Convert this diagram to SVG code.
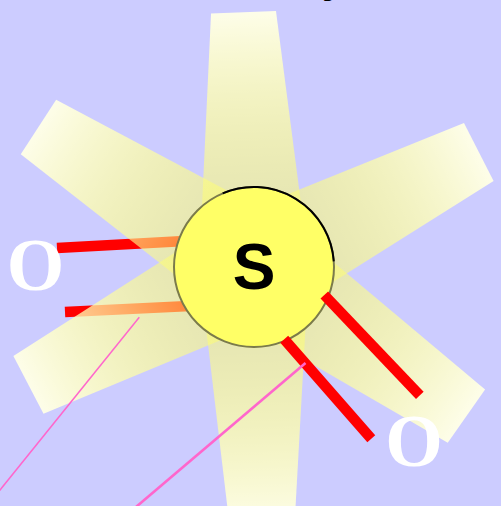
<svg xmlns="http://www.w3.org/2000/svg" width="501" height="506" viewBox="0 0 501 506">
  <defs>
    <linearGradient id="rayGrad" x1="0" y1="0" x2="1" y2="0">
      <stop offset="0" stop-color="#ffff40" stop-opacity="0.35"/>
      <stop offset="1" stop-color="#ffffe8" stop-opacity="0.97"/>
    </linearGradient>
    <style>
      .ray { fill: url(#rayGrad); }
      .bond { stroke: #ff0000; stroke-width: 10.5; stroke-linecap: butt; fill: none; }
      .pink { stroke: #ff66cc; fill: none; }
      .olabel { font-family: "Liberation Serif", "Times New Roman", serif; font-weight: bold; font-size: 74px; fill: #ffffff; text-anchor: middle; }
      .slabel { font-family: "Liberation Sans", Arial, sans-serif; font-weight: bold; font-size: 64px; fill: #000000; text-anchor: middle; }
    </style>
  </defs>
  <rect x="0" y="0" width="501" height="506" fill="#ccccff"/>
  <text x="322" y="-7" font-family="Liberation Sans, Arial, sans-serif" font-weight="bold" font-size="40" fill="#000">y</text>

  <g id="connectors-under">
    <line class="bond" x1="57" y1="248" x2="185" y2="241"/>
    <line class="bond" x1="65" y1="312" x2="190" y2="306"/>
  </g>

  <g id="rays">
    <polygon class="ray" points="0,-55 255,-32.5 255,32.5 0,55" transform="translate(254,267) rotate(-92.36)"/>
    <polygon class="ray" points="0,-55 257,-32.5 257,32.5 0,55" transform="translate(254,267) rotate(-147)"/>
    <polygon class="ray" points="0,-55 252.5,-32.5 252.5,32.5 0,55" transform="translate(254,267) rotate(-27.1)"/>
    <polygon class="ray" points="0,-55 259.5,-32.5 259.5,32.5 0,55" transform="translate(254,267) rotate(35.06)"/>
    <polygon class="ray" points="0,-55 254.5,-32.5 254.5,32.5 0,55" transform="translate(254,267) rotate(152.4)"/>
    <polygon class="ray" points="0,-55 258,-32.5 258,32.5 0,55" transform="translate(254,267) rotate(88.2)"/>
  </g>

  <g id="node-S">
    <circle cx="254" cy="267" r="80" fill="#ffff66" stroke="#7b7b4b" stroke-width="2"/>
    <path d="M222.7,193.4 A80,80 0 0 1 333.8,261.4" fill="none" stroke="#000000" stroke-width="2"/>
    <text class="slabel" x="254" y="289">S</text>
  </g>

  <g id="connectors">
    <line class="bond" x1="324.3" y1="295" x2="419.8" y2="395.3"/>
    <line class="bond" x1="284.2" y1="339.3" x2="371.3" y2="438.7"/>
    <line class="pink" stroke-width="1.5" x1="139.3" y1="317.3" x2="-1" y2="491.2"/>
    <line class="pink" stroke-width="2.6" x1="305.5" y1="363" x2="136" y2="507"/>
  </g>

  <g id="node-O1">
    <text class="olabel" x="35.5" y="289.5">O</text>
  </g>
  <g id="node-O2">
    <text class="olabel" x="414" y="465.5">O</text>
  </g>
</svg>
